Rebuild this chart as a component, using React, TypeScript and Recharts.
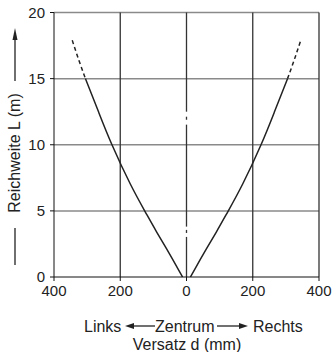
import { CartesianGrid, Line, LineChart, ReferenceLine, XAxis, YAxis } from "recharts";

// offset d (mm) from centre vs. range L (m), one side; mirrored for the left
const offsets = [12, 50, 90, 125, 170, 225, 265, 305];
const ranges = [0, 1.7, 3.4, 4.95, 7.05, 10, 12.45, 15];
const extOffsets = [305, 325, 345];
const extRanges = [15, 16.4, 17.9];

const xTicks = [-400, -200, 0, 200, 400];
const yTicks = [0, 5, 10, 15, 20];
const gridX = [-200, 0, 200, 400];
const gridY = [5, 10, 15, 20];
// little breaks in the centre line
const centerGaps = [
  [12.5, 12.12],
  [11.89, 11.52],
  [3.81, 3.56],
  [3.33, 3.03],
];

const rightSolid = offsets.map((d, i) => ({ d, L: ranges[i] }));
const leftSolid = offsets.map((d, i) => ({ d: -d, L: ranges[i] })).reverse();
const rightDash = extOffsets.map((d, i) => ({ d, L: extRanges[i] }));
const leftDash = extOffsets.map((d, i) => ({ d: -d, L: extRanges[i] })).reverse();

const ink = "#222";

function XLabel() {
  return (
    <g fill={ink} fontSize={16}>
      <text x={84} y={332}>Links</text>
      <line x1={132} y1={326} x2={155} y2={326} stroke={ink} strokeWidth={1.3} />
      <polygon points="125,326 134,323 134,329" fill={ink} />
      <text x={155} y={332}>Zentrum</text>
      <line x1={217} y1={326} x2={241} y2={326} stroke={ink} strokeWidth={1.3} />
      <polygon points="248,326 239,323 239,329" fill={ink} />
      <text x={253} y={332}>Rechts</text>
      <text x={187} y={350} textAnchor="middle">Versatz d (mm)</text>
    </g>
  );
}

function YLabel() {
  return (
    <g fill={ink}>
      <text x={0} y={0} fontSize={16} textAnchor="middle" transform="translate(19.5 153) rotate(-90)">
        Reichweite L (m)
      </text>
      <line x1={15} y1={39} x2={15} y2={81} stroke={ink} strokeWidth={1.3} />
      <polygon points="15,28 12.5,40 17.5,40" fill={ink} />
      <line x1={15} y1={228} x2={15} y2={265} stroke={ink} strokeWidth={1.3} />
    </g>
  );
}

export default function App() {
  return (
    <div style={{ position: "absolute", left: 0, top: 0, fontFamily: "'Liberation Sans', Arial, sans-serif" }}>
      <LineChart width={334} height={352} margin={{ top: 12.5, right: 15, left: 0, bottom: 0 }}>
        <CartesianGrid horizontal={true} vertical={false} horizontalValues={gridY} stroke="#8a8a8a" strokeWidth={1.5} />
        <CartesianGrid horizontal={false} vertical={true} verticalValues={gridX} stroke="#333" strokeWidth={1.3} />
        {centerGaps.map(([a, b], i) => (
          <ReferenceLine key={i} segment={[{ x: 0, y: a }, { x: 0, y: b }]} stroke="#fff" strokeWidth={3} />
        ))}
        <XAxis
          type="number"
          dataKey="d"
          domain={[-400, 400]}
          ticks={xTicks}
          tickFormatter={(v: number) => String(Math.abs(v))}
          height={75}
          tickSize={4}
          tickMargin={4}
          stroke="#111"
          tick={{ fill: ink, fontSize: 15 }}
          label={<XLabel />}
        />
        <YAxis
          type="number"
          domain={[0, 20]}
          ticks={yTicks}
          width={54}
          tickSize={4}
          tickMargin={5}
          stroke="#111"
          tick={{ fill: ink, fontSize: 15 }}
          label={<YLabel />}
        />
        <Line data={leftSolid} dataKey="L" type="natural" stroke={ink} strokeWidth={1.5} dot={false} isAnimationActive={false} />
        <Line data={rightSolid} dataKey="L" type="natural" stroke={ink} strokeWidth={1.5} dot={false} isAnimationActive={false} />
        <Line data={leftDash} dataKey="L" type="natural" stroke={ink} strokeWidth={1.5} strokeDasharray="4 3" dot={false} isAnimationActive={false} />
        <Line data={rightDash} dataKey="L" type="natural" stroke={ink} strokeWidth={1.5} strokeDasharray="4 3" dot={false} isAnimationActive={false} />
      </LineChart>
    </div>
  );
}
